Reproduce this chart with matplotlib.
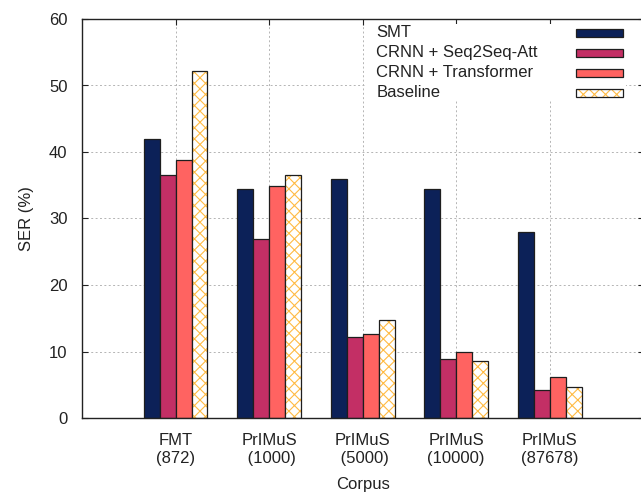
import numpy as np
import matplotlib
matplotlib.use("Agg")
import matplotlib.pyplot as plt
from matplotlib.patches import Rectangle
from matplotlib.transforms import ScaledTranslation

# Дані
corpora = ["FMT\n(872)", "PrIMuS\n (1000)", "PrIMuS\n (5000)", "PrIMuS\n(10000)", "PrIMuS\n(87678)"]
series_names = ["SMT", "CRNN + Seq2Seq-Att", "CRNN + Transformer", "Baseline"]
smt = [42.0, 34.4, 36.0, 34.4, 28.0]
seq2seq = [36.6, 26.9, 12.2, 8.8, 4.2]
transformer = [38.8, 34.9, 12.7, 10.0, 6.2]
baseline = [52.2, 36.6, 14.7, 8.5, 4.7]
y_ticks = [0, 10, 20, 30, 40, 50, 60]

colors = ["#0c2158", "#c32f65", "#ff6361", "white"]
hatch_color = "#ffbb44"
edge = "#1e1e1e"
text_color = "#222222"

plt.rcParams["font.family"] = ["Liberation Sans", "DejaVu Sans"]
plt.rcParams["font.size"] = 12
plt.rcParams["hatch.linewidth"] = 0.8

fig = plt.figure(figsize=(6.41, 4.94), dpi=100)
ax = fig.add_axes([82 / 641, 76 / 494, 562 / 641, 399 / 494])
ax.set_axisbelow(True)

x = np.arange(1, len(corpora) + 1)
w = 0.171
all_series = [smt, seq2seq, transformer, baseline]
for i, vals in enumerate(all_series):
    pos = x + (i - 1.5) * w
    if series_names[i] == "Baseline":
        ax.bar(pos, vals, w, color="white", edgecolor=hatch_color, hatch="xxx", linewidth=0, zorder=2)
        ax.bar(pos, vals, w, fill=False, edgecolor=edge, linewidth=0.9, zorder=3)
    else:
        ax.bar(pos, vals, w, color=colors[i], edgecolor=edge, linewidth=0.9, zorder=2)

ax.set_xlim(0, 6.01)
ax.set_ylim(0, 60)
ax.set_yticks(y_ticks)
ax.set_xticks(x)
ax.set_xticklabels(corpora, multialignment="center", linespacing=1.25)

# зсув підписів як у gnuplot
label_shift = [-5, -7.5, -11, -14, -17]
for lab, dx in zip(ax.get_xticklabels(), label_shift):
    lab.set_transform(lab.get_transform() + ScaledTranslation(dx / 100, 0, fig.dpi_scale_trans))

ax.grid(True, color="#b4b4b4", linestyle=(0, (2, 2.5)), linewidth=0.7)
ax.tick_params(direction="in", top=True, right=True, length=4, width=0.8,
               colors=text_color, labelcolor=text_color)
ax.tick_params(axis="y", pad=10.5)
ax.tick_params(axis="x", pad=10.5)
for s in ax.spines.values():
    s.set_color("#222222")
    s.set_linewidth(1.0)
ax.spines["right"].set_visible(False)  # права рамка за межами картинки

ax.set_ylabel("SER (%)", color=text_color, labelpad=11)
ax.set_xlabel("Corpus", color=text_color, labelpad=8.5)

# легенда в стилі gnuplot: текст ліворуч, зразок праворуч
ax.add_patch(Rectangle((0.503, 0.797), 0.465, 0.19, transform=ax.transAxes,
                       facecolor="white", edgecolor="none", zorder=1))
rows_y = [0.965, 0.915, 0.865, 0.815]
for name, col, ry in zip(series_names, colors, rows_y):
    ax.text(0.524, ry, name, transform=ax.transAxes, ha="left", va="center",
            color=text_color, zorder=4)
    if name == "Baseline":
        ax.add_patch(Rectangle((0.879, ry - 0.01), 0.084, 0.02, transform=ax.transAxes,
                               facecolor="white", edgecolor=hatch_color, hatch="xxx",
                               linewidth=0, zorder=4))
        ax.add_patch(Rectangle((0.879, ry - 0.01), 0.084, 0.02, transform=ax.transAxes,
                               fill=False, edgecolor=edge, linewidth=0.9, zorder=5))
    else:
        ax.add_patch(Rectangle((0.879, ry - 0.01), 0.084, 0.02, transform=ax.transAxes,
                               facecolor=col, edgecolor=edge, linewidth=0.9, zorder=4))

fig.savefig("out.png", dpi=100)
